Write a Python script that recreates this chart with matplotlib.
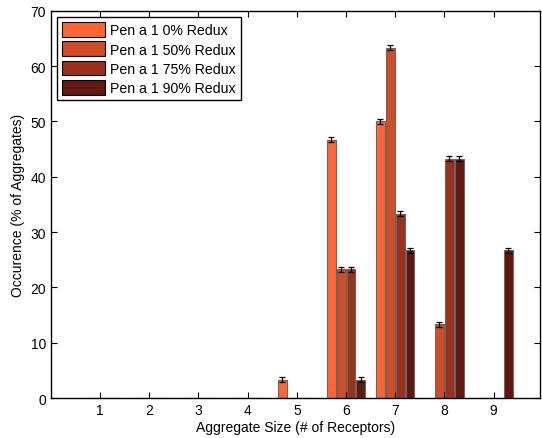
import numpy as np
import matplotlib
matplotlib.use("Agg")
import matplotlib.pyplot as plt

plt.rcParams['font.family'] = ['Liberation Sans', 'DejaVu Sans']

# aggregate sizes
sizes = [1, 2, 3, 4, 5, 6, 7, 8, 9]
labels = ['Pen a 1 0% Redux', 'Pen a 1 50% Redux', 'Pen a 1 75% Redux', 'Pen a 1 90% Redux']
colors = ['#FF6633', '#D14D27', '#9B311A', '#62170F']

# occurrence (% of aggregates) per series
redux0 = [0, 0, 0, 0, 3.3, 46.7, 50.0, 0, 0]
redux50 = [0, 0, 0, 0, 0, 23.3, 63.3, 13.3, 0]
redux75 = [0, 0, 0, 0, 0, 23.3, 33.3, 43.3, 0]
redux90 = [0, 0, 0, 0, 0, 3.3, 26.7, 43.3, 26.7]
err = 0.45

series = [redux0, redux50, redux75, redux90]
offsets = [-0.3, -0.1, 0.1, 0.3]

fig = plt.figure(figsize=(5.42, 4.39), dpi=100)
ax = fig.add_axes([0.094, 0.091, 0.902, 0.882])

x = np.array(sizes)
for vals, off, col, lab in zip(series, offsets, colors, labels):
    vals = np.array(vals)
    ax.bar(x + off, vals, width=0.18, color=col, edgecolor='#666666',
           linewidth=0.8, label=lab)
    nz = vals > 0
    ax.errorbar((x + off)[nz], vals[nz], yerr=err, fmt='none', ecolor='black',
                elinewidth=0.9, capsize=2.5, capthick=0.9)

ax.set_xlim(0, 9.94)
ax.set_ylim(0, 70)
ax.set_xticks(sizes)
ax.set_yticks(range(0, 71, 10))
ax.tick_params(direction='in', top=True, right=True, labelsize=10, length=4)
for s in ax.spines.values():
    s.set_linewidth(1.0)
ax.set_xlabel('Aggregate Size (# of Receptors)', fontsize=10, labelpad=2)
ax.set_ylabel('Occurence (% of Aggregates)', fontsize=10)

leg = ax.legend(loc='upper left', fontsize=10.2, fancybox=False, edgecolor='black',
                framealpha=1, handlelength=3.0, handleheight=1.2,
                borderaxespad=0.45, labelspacing=0.3, handletextpad=0.4,
                borderpad=0.35)
leg.get_frame().set_linewidth(1.0)
for p in leg.get_patches():
    p.set_edgecolor('black')

fig.savefig('out.png', dpi=100)
